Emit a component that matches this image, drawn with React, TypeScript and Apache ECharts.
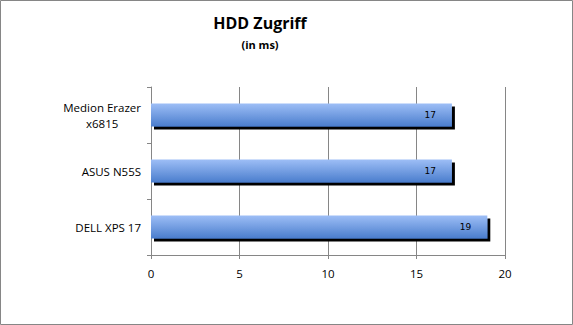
import React, { useEffect, useRef } from "react";
import * as echarts from "echarts";

const categories: string[] = ["DELL XPS 17", "ASUS N55S", "Medion Erazer x6815"];
const accessTimes: number[] = [19, 17, 17];
const xTicks: number[] = [0, 5, 10, 15, 20];
const titleText = "HDD Zugriff";
const subtitleText = "(in ms)";

export default function App() {
  const ref = useRef<HTMLDivElement>(null);
  useEffect(() => {
    document.body.style.margin = "0";
    const chart = echarts.init(ref.current!, null, { renderer: "svg" });
    const font = "'Open Sans', 'Noto Sans', sans-serif";
    chart.setOption({
      animation: false,
      backgroundColor: "#ffffff",
      graphic: [
        {
          type: "rect",
          shape: { x: 0.5, y: 0.5, width: 572, height: 324 },
          style: { fill: "none", stroke: "#868686", lineWidth: 1 },
          silent: true,
        },
        {
          type: "text",
          x: 260,
          y: 15,
          style: {
            text: titleText,
            fontFamily: font,
            fontWeight: "bold",
            fontSize: 16,
            fill: "#000",
            textAlign: "center",
          },
        },
        {
          type: "text",
          x: 260,
          y: 39,
          style: {
            text: subtitleText,
            fontFamily: font,
            fontWeight: "bold",
            fontSize: 11,
            fill: "#000",
            textAlign: "center",
          },
        },
      ],
      grid: { left: 151, right: 68, top: 87, bottom: 70, containLabel: false },
      xAxis: {
        type: "value",
        min: xTicks[0],
        max: xTicks[xTicks.length - 1],
        interval: xTicks[1] - xTicks[0],
        axisLine: { show: true, lineStyle: { color: "#868686", width: 1 } },
        axisTick: { show: true, length: 4, lineStyle: { color: "#868686" } },
        splitLine: { show: true, lineStyle: { color: "#868686", width: 1 } },
        axisLabel: { color: "#000", fontFamily: font, fontSize: 11.5, margin: 12 },
      },
      yAxis: {
        type: "category",
        data: categories,
        axisLine: { show: true, lineStyle: { color: "#868686", width: 1 } },
        axisTick: { show: true, length: 4, lineStyle: { color: "#868686" } },
        axisLabel: {
          color: "#000",
          fontFamily: font,
          fontSize: 11.5,
          margin: 10,
          lineHeight: 16,
          formatter: (v: string) =>
            v === "Medion Erazer x6815"
              ? "{c|Medion Erazer}\n{c|x6815}"
              : "{c|" + v + "}",
          rich: {
            c: { align: "center", fontFamily: font, fontSize: 11.5, color: "#000", lineHeight: 16 },
          },
        },
      },
      series: [
        {
          type: "bar",
          data: accessTimes,
          barWidth: 23,
          itemStyle: {
            color: new echarts.graphic.LinearGradient(0, 0, 0, 1, [
              { offset: 0, color: "#9dbef6" },
              { offset: 1, color: "#4a7dcd" },
            ]),
            shadowColor: "#000",
            shadowOffsetX: 3,
            shadowOffsetY: 3,
            shadowBlur: 0,
          },
          label: {
            show: true,
            position: "insideRight",
            distance: 16,
            color: "#000",
            fontFamily: "'DejaVu Sans', sans-serif",
            fontSize: 9,
          },
        },
      ],
    });
    return () => chart.dispose();
  }, []);
  return <div ref={ref} style={{ width: 573, height: 325 }} />;
}
